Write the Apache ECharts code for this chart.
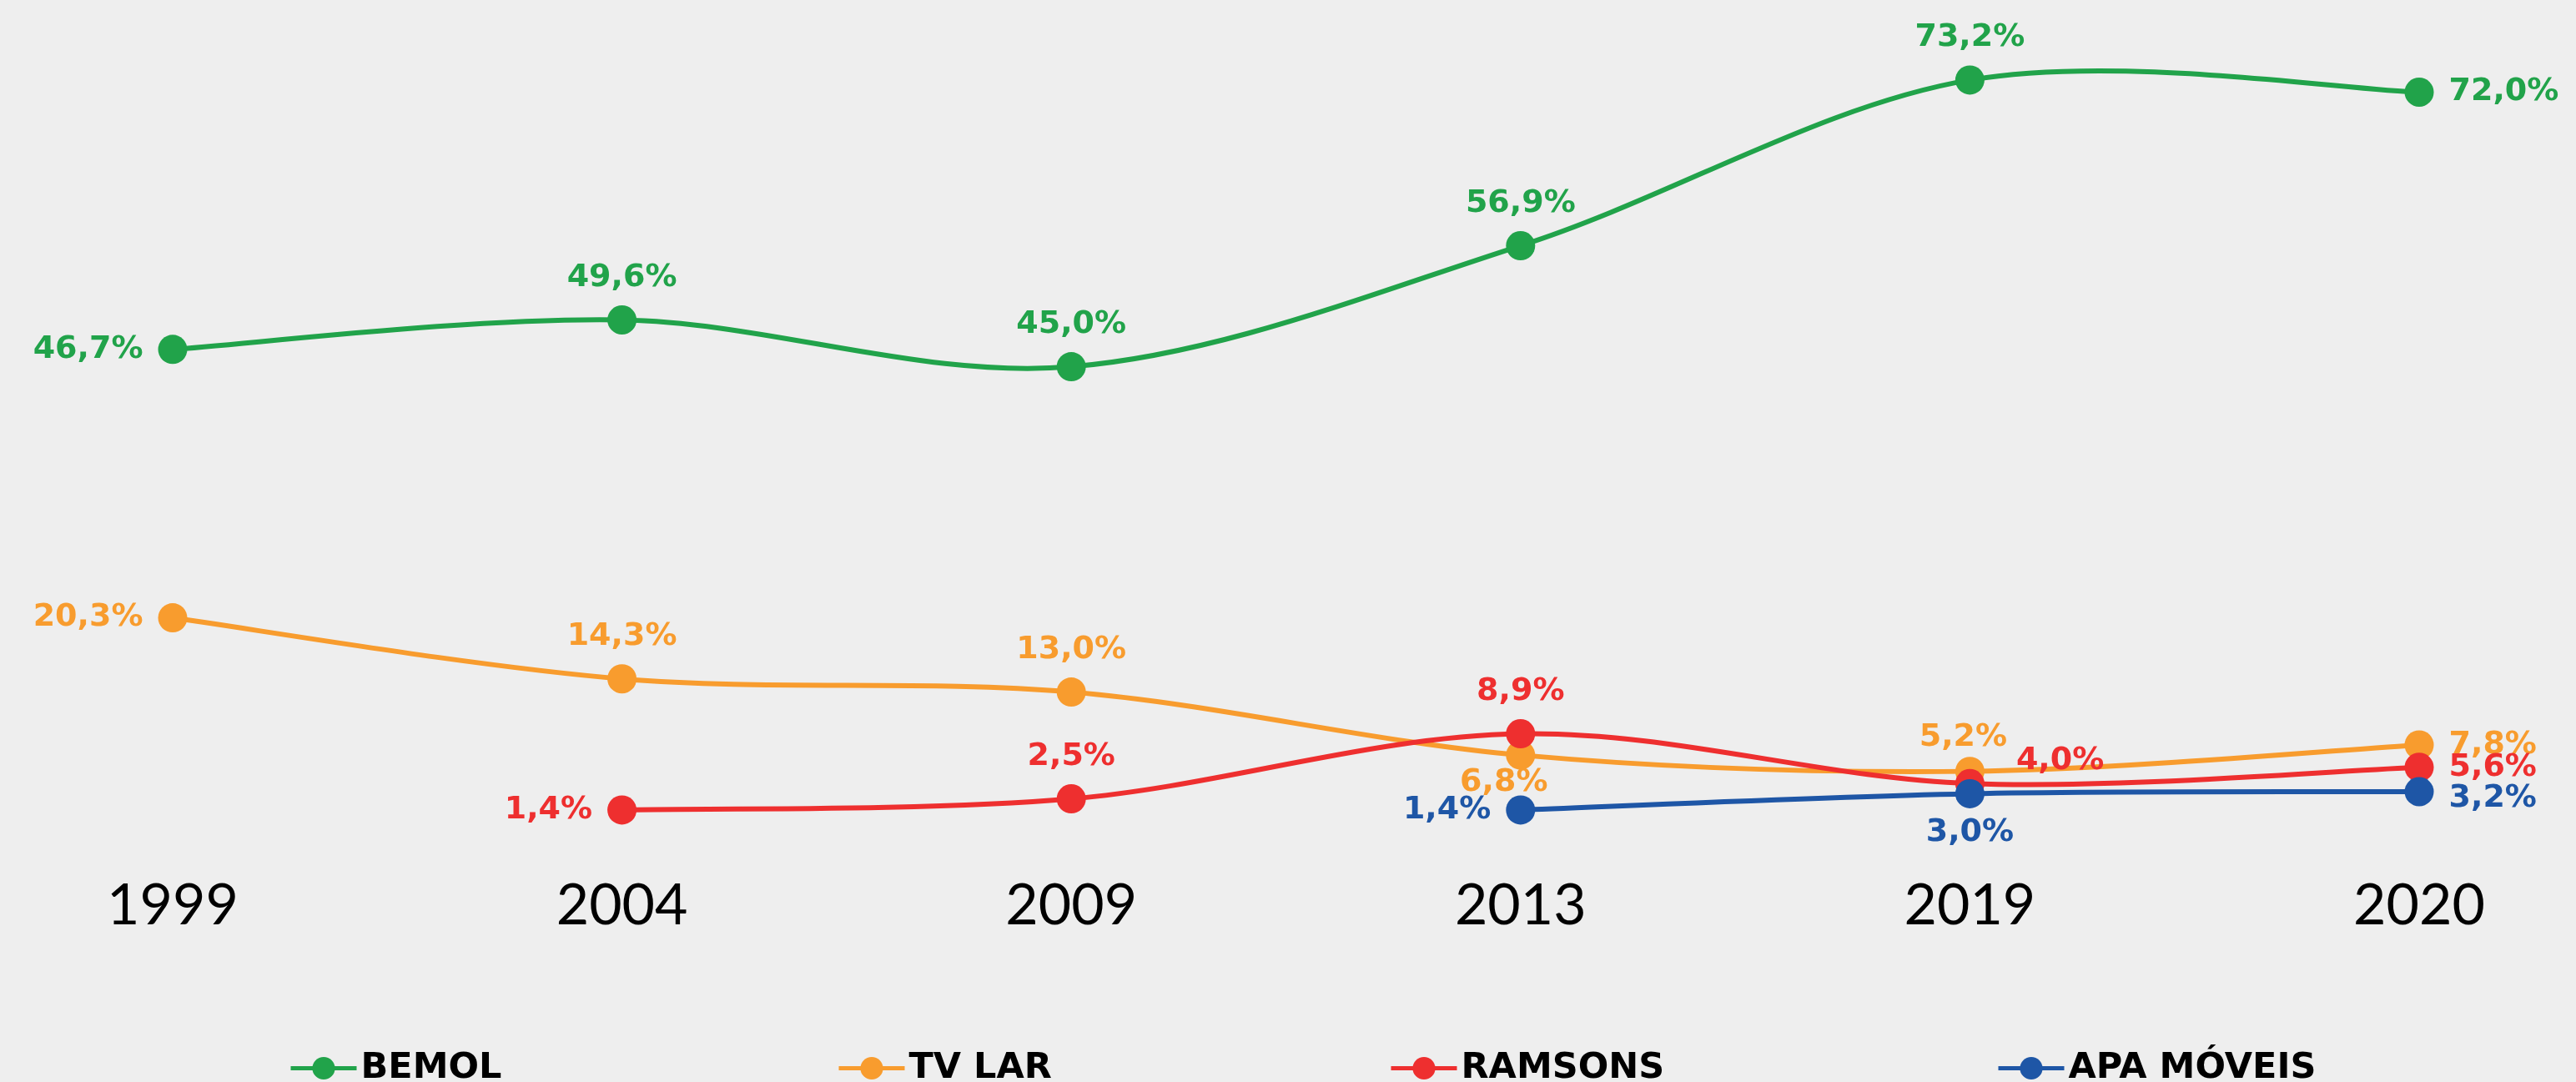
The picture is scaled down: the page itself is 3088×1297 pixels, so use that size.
<!DOCTYPE html>
<html>
<head>
<meta charset="utf-8">
<script src="https://cdn.jsdelivr.net/npm/echarts@6/dist/echarts.min.js"></script>
<style>
  html, body { margin: 0; padding: 0; background: #eeeeee; }
  #chart { width: 3088px; height: 1297px; }
</style>
</head>
<body>
<div id="chart"></div>
<script>
// data
const years = ['1999', '2004', '2009', '2013', '2019', '2020'];
const bemol = [46.7, 49.6, 45.0, 56.9, 73.2, 72.0];
const tvLar = [20.3, 14.3, 13.0, 6.8, 5.2, 7.8];
const ramsons = [null, 1.4, 2.5, 8.9, 4.0, 5.6];
const apaMoveis = [null, null, null, 1.4, 3.0, 3.2];

// where each value label sits (one entry per year)
const bemolPos = ['left', 'top', 'top', 'top', 'top', 'right'];
const tvLarPos = ['left', 'top', 'top', 'bottom', 'top', 'right'];
const ramsonsPos = [null, 'left', 'top', 'top', 'right', 'right'];
const apaPos = [null, null, null, 'left', 'bottom', 'right'];

const labelOffsets = {
  'TV LAR': { 3: [-20, -8], 4: [-8, 10] },
  'RAMSONS': { 4: [20, -27] },
  'APA MÓVEIS': { 4: [0, 6], 5: [0, 8] }
};

const colors = {
  'BEMOL': '#21a34a',
  'TV LAR': '#f89c2e',
  'RAMSONS': '#ee2f2f',
  'APA MÓVEIS': '#1e56a6'
};

const LINE_W = 6;

function fmt(v) {
  return v.toFixed(1).replace('.', ',') + '%';
}

// smooth curve like a spreadsheet's "smoothed line" (catmull-rom),
// drawn segment by segment from axis coordinates
function curveSeries(name, values) {
  const color = colors[name];
  const items = [];
  values.forEach(function (v, i) {
    if (v !== null && i + 1 < values.length && values[i + 1] !== null) items.push([i, v]);
  });
  return {
    name: name + '-curve',
    type: 'custom',
    silent: true,
    z: 1,
    data: items,
    renderItem: function (params, api) {
      const i = api.value(0);
      const pt = function (k) { return api.coord([k, values[k]]); };
      const p1 = pt(i);
      const p2 = pt(i + 1);
      const p0 = (i - 1 >= 0 && values[i - 1] !== null) ? pt(i - 1) : p1;
      const p3 = (i + 2 < values.length && values[i + 2] !== null) ? pt(i + 2) : p2;
      return {
        type: 'bezierCurve',
        shape: {
          x1: p1[0], y1: p1[1],
          x2: p2[0], y2: p2[1],
          cpx1: p1[0] + (p2[0] - p0[0]) / 6,
          cpy1: p1[1] + (p2[1] - p0[1]) / 6,
          cpx2: p2[0] - (p3[0] - p1[0]) / 6,
          cpy2: p2[1] - (p3[1] - p1[1]) / 6
        },
        style: { stroke: color, lineWidth: LINE_W, fill: null }
      };
    }
  };
}

function pointSeries(name, values, positions) {
  const color = colors[name];
  const offs = labelOffsets[name] || {};
  return {
    name: name,
    type: 'line',
    symbol: 'circle',
    symbolSize: 35,
    z: 3,
    color: color,
    lineStyle: { width: 0, opacity: 0 },
    itemStyle: { color: color },
    data: values.map(function (v, i) {
      if (v === null) return null;
      return {
        value: v,
        label: {
          show: true,
          position: positions[i],
          distance: positions[i] === 'bottom' ? 4 : (positions[i] === 'top' ? 14 : 18),
          offset: offs[i] || [0, 0],
          formatter: fmt(v),
          color: color,
          fontFamily: 'DejaVu Sans',
          fontWeight: 'bold',
          fontSize: 38
        }
      };
    })
  };
}

const names = ['BEMOL', 'TV LAR', 'RAMSONS', 'APA MÓVEIS'];
const legendLeft = [341, 998, 1660, 2388];

const option = {
  backgroundColor: '#eeeeee',
  animation: false,
  grid: { left: 207, right: 188, top: 13, bottom: 309 },
  legend: names.map(function (n, i) {
    return {
      data: [n],
      left: legendLeft[i],
      top: 1254,
      itemWidth: 79,
      itemHeight: 34,
      lineStyle: { color: colors[n], width: 5, opacity: 1 },
      itemStyle: { color: colors[n] },
      textStyle: {
        color: '#000',
        fontFamily: 'DejaVu Sans',
        fontWeight: 'bold',
        fontSize: 43
      }
    };
  }),
  xAxis: {
    type: 'category',
    boundaryGap: false,
    data: years,
    axisLine: { show: false },
    axisTick: { show: false },
    splitLine: { show: false },
    axisLabel: {
      color: '#000',
      fontFamily: 'Lato',
      fontSize: 68,
      margin: 64
    }
  },
  yAxis: {
    type: 'value',
    min: 0,
    max: 80,
    show: false,
    splitLine: { show: false }
  },
  series: [
    curveSeries('BEMOL', bemol),
    curveSeries('TV LAR', tvLar),
    curveSeries('RAMSONS', ramsons),
    curveSeries('APA MÓVEIS', apaMoveis),
    pointSeries('BEMOL', bemol, bemolPos),
    pointSeries('TV LAR', tvLar, tvLarPos),
    pointSeries('RAMSONS', ramsons, ramsonsPos),
    pointSeries('APA MÓVEIS', apaMoveis, apaPos)
  ]
};

const myChart = echarts.init(document.getElementById('chart'));
myChart.setOption(option);
</script>
</body>
</html>
